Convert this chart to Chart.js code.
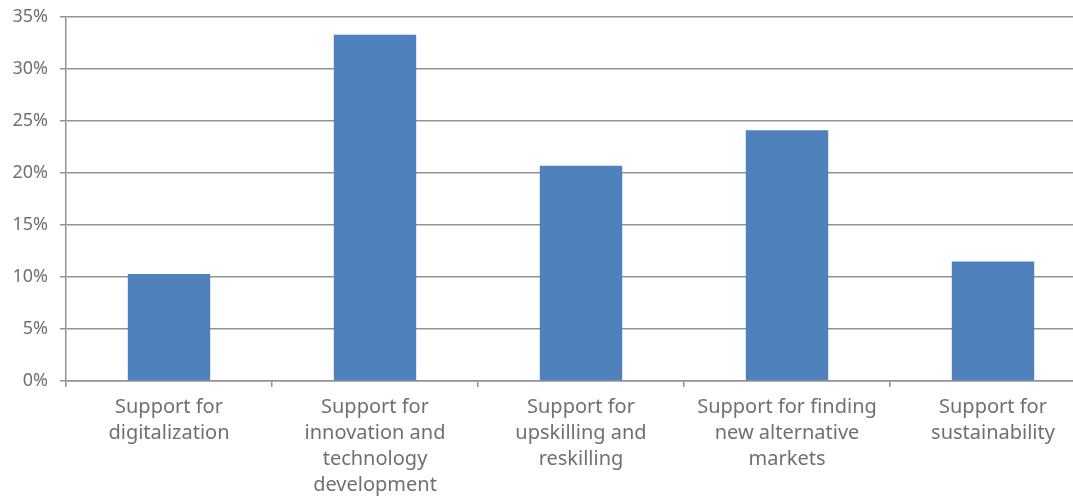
<!DOCTYPE html>
<html>
<head>
<meta charset="utf-8">
<script src="https://cdn.jsdelivr.net/npm/chart.js@4"></script>
<style>
  html, body { margin: 0; padding: 0; background: #fff; overflow: hidden; }
  #wrap { width: 1100px; height: 499px; }
</style>
</head>
<body>
<div id="wrap"><canvas id="myChart" width="1100" height="499"></canvas></div>
<script>
// categories and values
const categories = [
    ['Support for', 'digitalization'],
    ['Support for', 'innovation and', 'technology', 'development'],
    ['Support for', 'upskilling and', 'reskilling'],
    ['Support for finding', 'new alternative', 'markets'],
    ['Support for', 'sustainability']
];
const shares = [10.3, 33.3, 20.7, 24.1, 11.5];
const yTicks = [0, 5, 10, 15, 20, 25, 30, 35];

const textColor = '#707070';
const lineColor = '#939393';

const ctx = document.getElementById('myChart').getContext('2d');
const myChart = new Chart(ctx, {
    type: 'bar',
    data: {
        labels: categories,
        datasets: [{
            data: shares,
            backgroundColor: '#4f81bd',
            borderWidth: 0,
            categoryPercentage: 1,
            barPercentage: 0.4
        }]
    },
    options: {
        responsive: false,
        animation: false,
        layout: { padding: { top: 17, right: 4, left: 0, bottom: 0 } },
        plugins: {
            legend: { display: false },
            tooltip: { enabled: false }
        },
        scales: {
            x: {
                grid: {
                    offset: true,
                    drawOnChartArea: false,
                    drawTicks: true,
                    tickLength: 6,
                    color: lineColor,
                    lineWidth: 1.5
                },
                border: { color: lineColor, width: 1.5 },
                ticks: {
                    color: textColor,
                    padding: 7,
                    maxRotation: 0,
                    autoSkip: false,
                    font: { family: 'Noto Sans', size: 20, lineHeight: 1.3 }
                },
                afterFit: function (scale) {
                    scale.height = 118;
                    scale.paddingLeft = 0;
                    scale.paddingRight = 0;
                }
            },
            y: {
                min: 0,
                max: 35,
                afterBuildTicks: function (scale) {
                    scale.ticks = yTicks.map(v => ({ value: v }));
                },
                grid: {
                    color: lineColor,
                    lineWidth: 1.5,
                    tickLength: 6
                },
                border: { color: lineColor, width: 1.5 },
                ticks: {
                    color: textColor,
                    padding: 12,
                    font: { family: 'Noto Sans', size: 18 },
                    callback: v => v + '%'
                },
                afterFit: function (scale) {
                    scale.width = 66;
                    scale.paddingTop = 0;
                    scale.paddingBottom = 0;
                }
            }
        }
    }
});
</script>
</body>
</html>
